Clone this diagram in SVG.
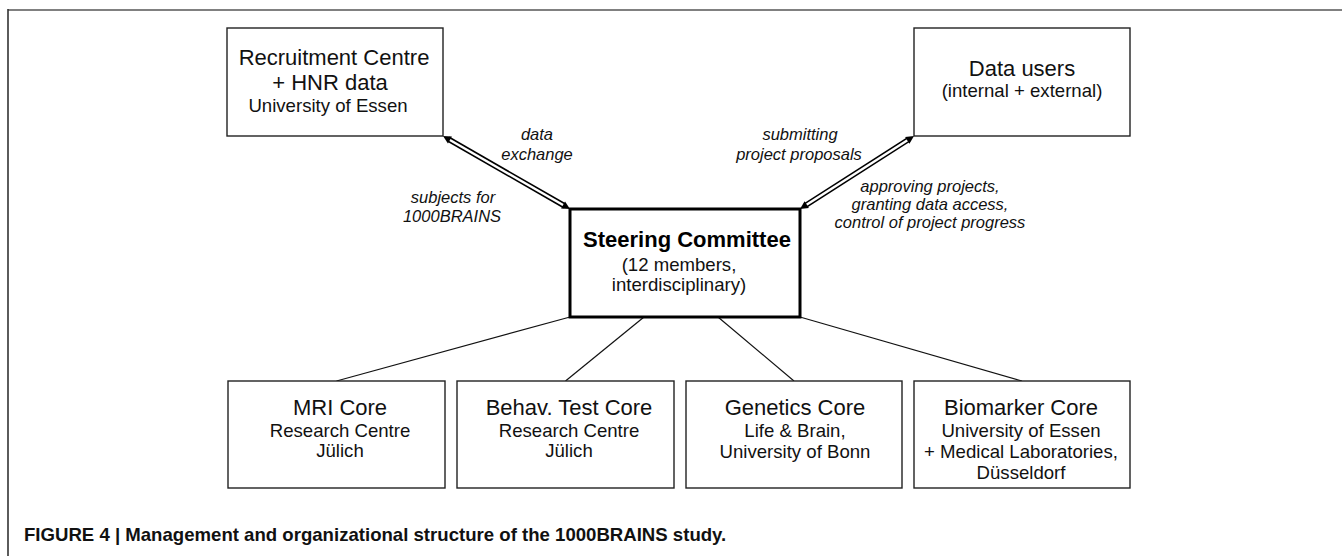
<svg xmlns="http://www.w3.org/2000/svg" width="1342" height="556" viewBox="0 0 1342 556">
<style>
.box{fill:#fff;stroke:#222;stroke-width:1.4}
.sc{fill:#fff;stroke:#000;stroke-width:3}
.t{font-family:"Liberation Sans",Arial,sans-serif;font-size:22px;fill:#111;text-anchor:middle}
.s{font-family:"Liberation Sans",Arial,sans-serif;font-size:18.6px;fill:#111;text-anchor:middle}
.b{font-family:"Liberation Sans",Arial,sans-serif;font-size:22px;font-weight:bold;fill:#000;text-anchor:middle}
.lab{font-family:"Liberation Sans",Arial,sans-serif;font-size:16.5px;font-style:italic;fill:#111;text-anchor:middle}
.cap{font-family:"Liberation Sans",Arial,sans-serif;font-size:18.6px;font-weight:bold;fill:#111}
.ln{stroke:#111;stroke-width:1.2;fill:none}
.dbo{stroke:#000;stroke-width:5.5;fill:none}
.dbi{stroke:#fff;stroke-width:2.4;fill:none}
.ah{fill:#000}
</style>
<rect width="1342" height="556" fill="#fff"/>
<g id="frame">
<line x1="8" y1="10" x2="1342" y2="10" stroke="#808080" stroke-width="2"/>
<line x1="8" y1="9" x2="8" y2="556" stroke="#333" stroke-width="1.6"/>
</g>
<g id="connectors">
<line class="ln" x1="570" y1="317" x2="336.5" y2="381"/>
<line class="ln" x1="644" y1="317" x2="565.5" y2="381"/>
<line class="ln" x1="718" y1="317" x2="794" y2="381"/>
<line class="ln" x1="800" y1="317" x2="1022" y2="381"/>
<line class="dbo" x1="448.2" y1="139" x2="564.8" y2="206"/>
<line class="dbi" x1="446" y1="137.7" x2="567" y2="207.3"/>
<polygon class="ah" points="570,209 561.07,208.48 565.05,201.54"/>
<polygon class="ah" points="443,136 447.95,143.45 451.93,136.52"/>
<line class="dbo" x1="805.05" y1="205.77" x2="908.95" y2="139.23"/>
<line class="dbi" x1="803" y1="207.1" x2="911" y2="137.9"/>
<polygon class="ah" points="800,209 808.9,208.06 804.58,201.32"/>
<polygon class="ah" points="914,136 909.42,143.68 905.1,136.94"/>
</g>
<g id="labels">
<text class="lab" x="537" y="140">data</text>
<text class="lab" x="537" y="160">exchange</text>
<text class="lab" x="453" y="203">subjects for</text>
<text class="lab" x="452" y="222">1000BRAINS</text>
<text class="lab" x="800" y="140">submitting</text>
<text class="lab" x="799" y="160">project proposals</text>
<text class="lab" x="930" y="192">approving projects,</text>
<text class="lab" x="930" y="210">granting data access,</text>
<text class="lab" x="930" y="228">control of project progress</text>
</g>
<g id="recruitment">
<rect class="box" x="227" y="28" width="216" height="108"/>
<text class="t" x="334" y="65">Recruitment Centre</text>
<text class="t" x="330" y="90">+ HNR data</text>
<text class="s" x="328" y="112">University of Essen</text>
</g>
<g id="datausers">
<rect class="box" x="914" y="28" width="216" height="108"/>
<text class="t" x="1022" y="76">Data users</text>
<text class="s" x="1022" y="97">(internal + external)</text>
</g>
<g id="steering">
<rect class="sc" x="570" y="209" width="230" height="108"/>
<text class="b" x="687" y="247">Steering Committee</text>
<text class="s" x="679" y="271">(12 members,</text>
<text class="s" x="679" y="291">interdisciplinary)</text>
</g>
<g id="mri">
<rect class="box" x="228" y="381" width="217" height="107"/>
<text class="t" x="340" y="415">MRI Core</text>
<text class="s" x="340" y="437">Research Centre</text>
<text class="s" x="340" y="457">Jülich</text>
</g>
<g id="behav">
<rect class="box" x="457" y="381" width="217" height="107"/>
<text class="t" x="569" y="415">Behav. Test Core</text>
<text class="s" x="569" y="437">Research Centre</text>
<text class="s" x="569" y="457">Jülich</text>
</g>
<g id="genetics">
<rect class="box" x="686" y="381" width="216" height="107"/>
<text class="t" x="795" y="415">Genetics Core</text>
<text class="s" x="795" y="437">Life &amp; Brain,</text>
<text class="s" x="795" y="458">University of Bonn</text>
</g>
<g id="biomarker">
<rect class="box" x="914" y="381" width="216" height="107"/>
<text class="t" x="1021" y="415">Biomarker Core</text>
<text class="s" x="1021" y="437">University of Essen</text>
<text class="s" x="1021" y="458">+ Medical Laboratories,</text>
<text class="s" x="1021" y="479">Düsseldorf</text>
</g>
<g id="caption">
<text class="cap" x="24" y="541">FIGURE 4 | Management and organizational structure of the 1000BRAINS study.</text>
</g>
</svg>
